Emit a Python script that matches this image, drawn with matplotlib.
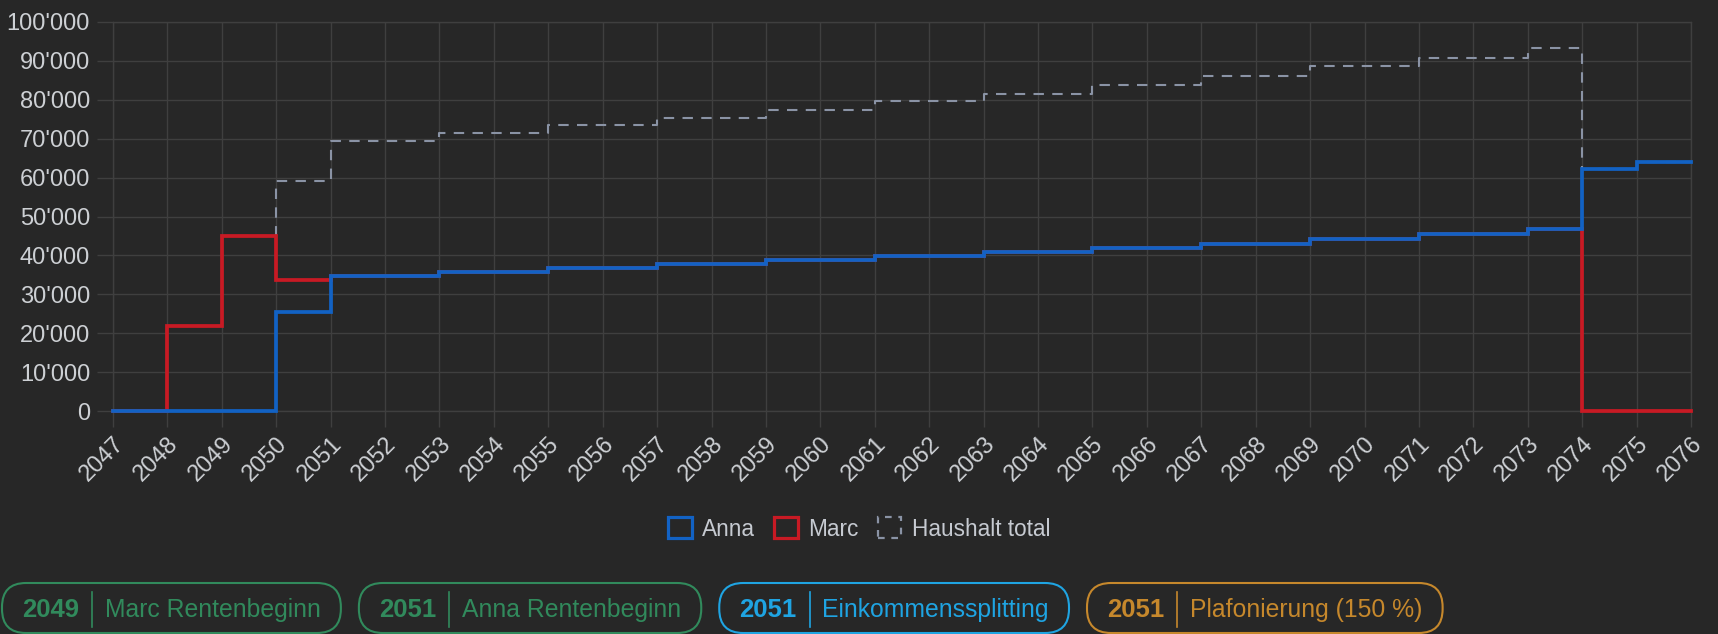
import matplotlib
matplotlib.use('Agg')
import matplotlib.pyplot as plt
from matplotlib.patches import Patch, FancyBboxPatch
from matplotlib.lines import Line2D
from matplotlib.ticker import FuncFormatter
from matplotlib.transforms import IdentityTransform

W, H = 1718, 634

years = list(range(2047, 2077))
anna = [0, 0, 0, 25400, 34700, 34700, 35700, 35700, 36700, 36700,
        37700, 37700, 38700, 38700, 39800, 39800, 40800, 40800, 41900, 41900,
        43000, 43000, 44300, 44300, 45400, 45400, 46700, 62300, 64000, 64000]
marc = [0, 21800, 45000, 33800, 34700, 34700, 35700, 35700, 36700, 36700,
        37700, 37700, 38700, 38700, 39800, 39800, 40800, 40800, 41900, 41900,
        43000, 43000, 44300, 44300, 45400, 45400, 46700, 0, 0, 0]
total = [0, 21800, 45000, 59200, 69400, 69400, 71400, 71400, 73400, 73400,
         75400, 75400, 77400, 77400, 79600, 79600, 81600, 81600, 83800, 83800,
         86000, 86000, 88600, 88600, 90800, 90800, 93400, 62300, 64000, 64000]
series_names = ['Anna', 'Marc', 'Haushalt total']

event_years = ['2049', '2051', '2051', '2051']
event_labels = ['Marc Rentenbeginn', 'Anna Rentenbeginn', 'Einkommenssplitting', 'Plafonierung (150 %)']
event_colors = ['#318a5c', '#318a5c', '#1fa4e2', '#c6882c']

bg = '#272727'
grid_c = '#3f3f3f'
txt_c = '#cdd0d4'
blue = '#1262c4'
red = '#c81a24'
gray = '#8a93a5'

plt.rcParams['font.family'] = ['Liberation Sans', 'DejaVu Sans']

fig = plt.figure(figsize=(W / 100, H / 100), dpi=100, facecolor=bg)
ax = fig.add_axes([113 / W, 1 - 411 / H, (1691 - 113) / W, (411 - 22) / H])
ax.set_facecolor(bg)

ax.plot(years, total, drawstyle='steps-post', color=gray, lw=1.5, dashes=(5, 4),
        clip_on=False, zorder=3)
ax.plot(years, marc, drawstyle='steps-post', color=red, lw=2.7, solid_joinstyle='miter',
        clip_on=False, zorder=4)
ax.plot(years, anna, drawstyle='steps-post', color=blue, lw=2.7, solid_joinstyle='miter',
        clip_on=False, zorder=5)

ax.set_xlim(years[0], years[-1])
ax.set_ylim(0, 100000)
ax.set_xticks(years)
ax.set_xticklabels([str(y) for y in years], rotation=45, ha='right', va='top',
                   rotation_mode='anchor')
ax.set_yticks(range(0, 100001, 10000))
ax.yaxis.set_major_formatter(FuncFormatter(lambda v, p: f"{v:,.0f}".replace(',', "'")))
ax.tick_params(axis='both', colors=grid_c, labelcolor=txt_c, labelsize=17,
               length=11.5, width=1)
ax.tick_params(axis='y', pad=5)
ax.tick_params(axis='x', pad=4)
ax.grid(True, color=grid_c, lw=1)
ax.set_axisbelow(True)
for s in ax.spines.values():
    s.set_color(grid_c)
    s.set_linewidth(1)

handles = [Patch(facecolor='none', edgecolor=blue, lw=2.3),
           Patch(facecolor='none', edgecolor=red, lw=2.3),
           Patch(facecolor='none', edgecolor=gray, lw=1.6, linestyle=(0, (3, 3)))]
fig.legend(handles, series_names, loc='center', bbox_to_anchor=(859 / W, 1 - 529 / H),
           ncol=3, frameon=False, fontsize=16.3, labelcolor='#c6cad1',
           handlelength=1.05, handleheight=1.05, handletextpad=0.45, columnspacing=0.85)

# event badges along the bottom
fig.canvas.draw()
rend = fig.canvas.get_renderer()
ident = IdentityTransform()
x = 2
cy = H - 610
for yr, lab, col in zip(event_years, event_labels, event_colors):
    t1 = fig.text(x + 20, cy, yr, transform=ident, fontsize=18.5, fontweight='bold',
                  color=col, va='center')
    w1 = t1.get_window_extent(rend).width
    sx = x + 20 + w1 + 13
    fig.add_artist(Line2D([sx, sx], [H - 592, H - 627], transform=ident, color=col, lw=1.2))
    t2 = fig.text(sx + 13, cy, lab, transform=ident, fontsize=17.8, color=col, va='center')
    w2 = t2.get_window_extent(rend).width
    right = sx + 13 + w2 + 20
    box = FancyBboxPatch((x, H - 633), right - x, 50, boxstyle='round,pad=0,rounding_size=24',
                         transform=ident, facecolor='none', edgecolor=col, lw=1.5)
    fig.add_artist(box)
    x = right + 18

fig.savefig('out.png', dpi=100, facecolor=bg)
